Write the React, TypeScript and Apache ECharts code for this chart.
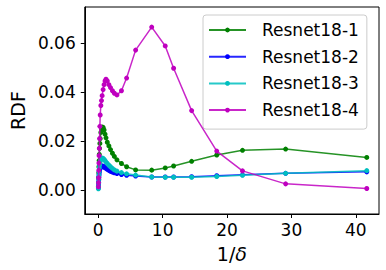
import React, { useEffect, useRef } from "react";
import * as echarts from "echarts";

const xValues = [0.02, 0.04, 0.06, 0.08, 0.1, 0.13, 0.16, 0.2, 0.25, 0.3, 0.4, 0.5, 0.6, 0.75, 0.9, 1.05, 1.2, 1.4, 1.65, 1.9, 2.2, 2.5, 2.9, 3.6, 4.4, 5.8, 8.3, 10.4, 11.7, 14.5, 18.4, 22.4, 29.1, 41.7];

const resnet1 = [0.0015, 0.003, 0.005, 0.007, 0.0095, 0.012, 0.0145, 0.017, 0.019, 0.021, 0.0235, 0.025, 0.0257, 0.0255, 0.0245, 0.0228, 0.0213, 0.0195, 0.018, 0.0165, 0.015, 0.0137, 0.0123, 0.0108, 0.0095, 0.0082, 0.0081, 0.009, 0.0098, 0.0117, 0.0143, 0.0162, 0.0167, 0.0133];
const resnet2 = [0.0008, 0.0018, 0.003, 0.0042, 0.0053, 0.0063, 0.0072, 0.008, 0.0086, 0.009, 0.0094, 0.0097, 0.0098, 0.0097, 0.0094, 0.0091, 0.0088, 0.0084, 0.008, 0.0076, 0.0073, 0.007, 0.0067, 0.0063, 0.006, 0.0057, 0.0053, 0.0053, 0.0053, 0.0054, 0.0058, 0.0062, 0.0068, 0.0074];
const resnet3 = [0.0005, 0.0015, 0.003, 0.0045, 0.006, 0.0075, 0.009, 0.0102, 0.011, 0.0117, 0.0123, 0.0128, 0.013, 0.0129, 0.0125, 0.012, 0.0114, 0.0108, 0.0101, 0.0095, 0.0088, 0.0082, 0.0077, 0.0071, 0.0066, 0.0061, 0.0053, 0.0052, 0.0052, 0.0052, 0.0055, 0.006, 0.0068, 0.0079];
const resnet4 = [0.0013, 0.003, 0.005, 0.008, 0.011, 0.014, 0.017, 0.021, 0.026, 0.0306, 0.0345, 0.0365, 0.0385, 0.041, 0.043, 0.0445, 0.0452, 0.0445, 0.043, 0.0418, 0.0405, 0.0395, 0.0388, 0.0405, 0.0457, 0.0571, 0.0665, 0.0588, 0.0497, 0.0324, 0.0159, 0.0078, 0.0025, 0.0006];

const seriesNames = ["Resnet18-1", "Resnet18-2", "Resnet18-3", "Resnet18-4"];
const seriesColors = ["#008000", "#0000ff", "#00bfbf", "#bf00bf"];
const xTicks = [0, 10, 20, 30, 40];
const yTicks = [0, 0.02, 0.04, 0.06];

const FONT = "DejaVu Sans";

export default function App() {
  const ref = useRef<HTMLDivElement>(null);
  useEffect(() => {
    if (!ref.current) return;
    const chart = echarts.init(ref.current, null, { renderer: "svg" });
    const all = [resnet1, resnet2, resnet3, resnet4];
    chart.setOption({
      animation: false,
      textStyle: { fontFamily: FONT },
      grid: {
        left: 77,
        top: 7,
        right: 7,
        bottom: 56,
        show: true,
        borderColor: "#000",
        borderWidth: 1,
        containLabel: false,
      },
      legend: {
        left: 203,
        top: 15,
        orient: "vertical",
        itemWidth: 37,
        itemHeight: 6,
        itemGap: 6.7,
        padding: [5, 8, 9, 5],
        borderColor: "#cccccc",
        borderWidth: 1,
        borderRadius: 3,
        backgroundColor: "rgba(255,255,255,0.8)",
        textStyle: { fontFamily: FONT, fontSize: 17, lineHeight: 20, color: "#000", padding: [0, 0, 0, 11] },
        data: seriesNames,
      },
      xAxis: {
        type: "value",
        min: -2.1,
        max: 43.6,
        name: "1/{i|δ}",
        nameLocation: "middle",
        nameGap: 30,
        nameTextStyle: {
          fontFamily: FONT,
          fontSize: 19,
          color: "#000",
          rich: { i: { fontFamily: FONT, fontSize: 19, fontStyle: "italic", color: "#000" } },
        },
        splitLine: { show: false },
        axisLine: { show: true, onZero: false, lineStyle: { color: "#000", width: 1 } },
        axisTick: { show: true, length: 4, inside: false, customValues: xTicks, lineStyle: { color: "#000" } },
        axisLabel: { customValues: xTicks, fontFamily: FONT, fontSize: 17, color: "#000", margin: 7 },
      },
      yAxis: {
        type: "value",
        min: -0.0098,
        max: 0.0747,
        name: "RDF",
        nameLocation: "middle",
        nameGap: 52,
        nameTextStyle: { fontFamily: FONT, fontSize: 19, color: "#000" },
        splitLine: { show: false },
        axisLine: { show: true, onZero: false, lineStyle: { color: "#000", width: 1 } },
        axisTick: { show: true, length: 4, inside: false, customValues: yTicks, lineStyle: { color: "#000" } },
        axisLabel: {
          customValues: yTicks,
          fontFamily: FONT,
          fontSize: 17,
          color: "#000",
          margin: 9,
          formatter: (v: number) => v.toFixed(2),
        },
      },
      series: seriesNames.map((name, i) => ({
        name,
        type: "line",
        data: xValues.map((x, j) => [x, all[i][j]]),
        symbol: "circle",
        symbolSize: 5,
        showSymbol: true,
        color: seriesColors[i],
        lineStyle: { width: 1.5, color: seriesColors[i], opacity: 0.85 },
        itemStyle: { color: seriesColors[i] },
        z: 2 + i,
      })),
    });
    return () => chart.dispose();
  }, []);
  return <div ref={ref} style={{ position: "absolute", left: 0, top: 0, width: 386, height: 270 }} />;
}
